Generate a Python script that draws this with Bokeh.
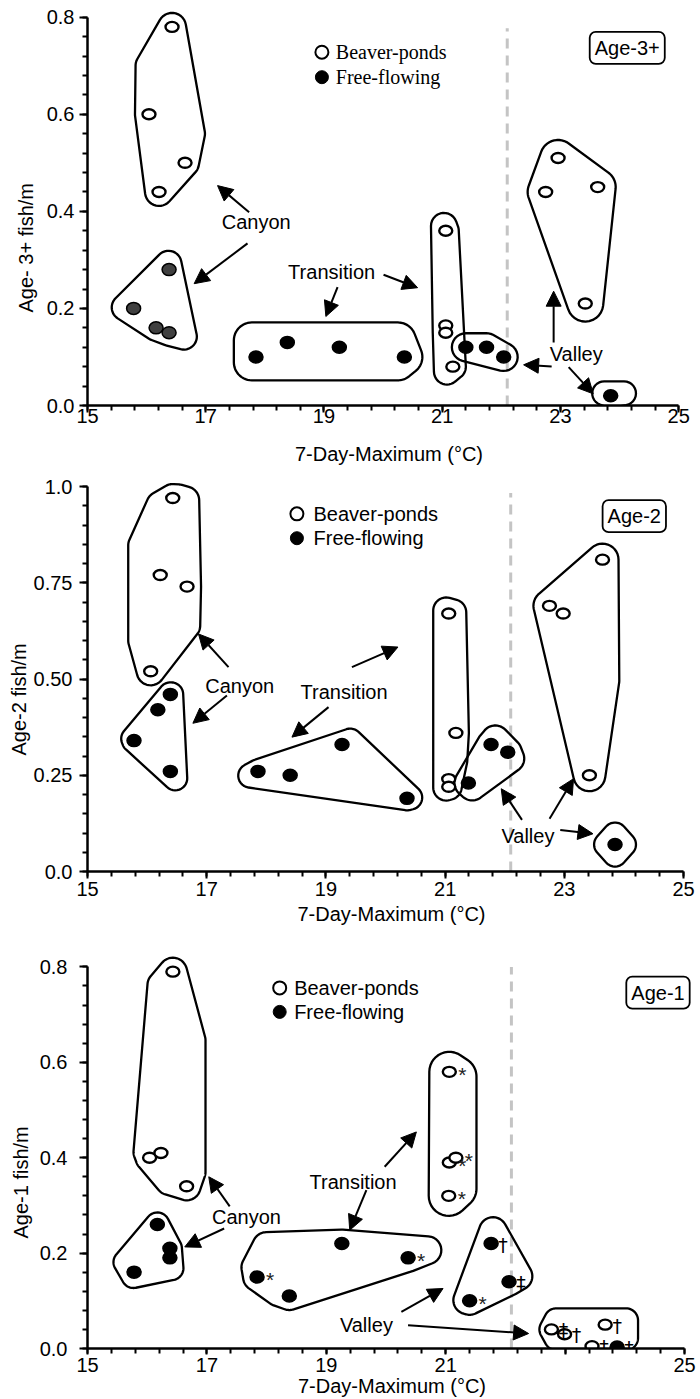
import numpy as np
from bokeh.plotting import figure
from bokeh.layouts import column
from bokeh.models import Label, Arrow, NormalHead, FixedTicker, Title
from bokeh.embed import file_html
from bokeh.resources import INLINE
from bokeh.core.properties import value

SANS = "Liberation Sans"
SERIF = "Liberation Serif"

X_TICKS = [15, 17, 19, 21, 23, 25]
X_TITLE = "7-Day-Maximum (°C)"
THRESHOLD_C = 22.1
ZONES = ["Canyon"] * 4 + ["Transition"] * 4 + ["Valley"] * 4

# ---------------- Age-3+ ----------------
A3_BEAVER_X = [16.43, 16.04, 16.65, 16.21, 21.06, 21.06, 21.06, 21.18, 22.96, 22.75, 23.63, 23.42]
A3_BEAVER_Y = [0.78, 0.60, 0.50, 0.44, 0.36, 0.165, 0.15, 0.08, 0.51, 0.44, 0.45, 0.21]
A3_FREE_X = [15.78, 16.16, 16.38, 16.38, 17.85, 18.38, 19.26, 20.36, 21.40, 21.75, 22.04, 23.85]
A3_FREE_Y = [0.20, 0.16, 0.15, 0.28, 0.10, 0.13, 0.12, 0.10, 0.12, 0.12, 0.10, 0.02]
A3_Y_TICKS = [0.0, 0.2, 0.4, 0.6, 0.8]
A3_Y_LABELS = ["0.0", "0.2", "0.4", "0.6", "0.8"]

# ---------------- Age-2 ----------------
A2_BEAVER_X = [16.43, 16.22, 16.67, 16.06, 21.06, 21.18, 21.06, 21.06, 23.64, 22.75, 22.98, 23.42]
A2_BEAVER_Y = [0.97, 0.77, 0.74, 0.52, 0.67, 0.36, 0.24, 0.22, 0.81, 0.69, 0.67, 0.25]
A2_FREE_X = [15.78, 16.18, 16.39, 16.39, 17.86, 18.40, 19.27, 20.36, 21.39, 21.77, 22.05, 23.85]
A2_FREE_Y = [0.34, 0.42, 0.46, 0.26, 0.26, 0.25, 0.33, 0.19, 0.23, 0.33, 0.31, 0.07]
A2_Y_TICKS = [0.0, 0.25, 0.5, 0.75, 1.0]
A2_Y_LABELS = ["0.0", "0.25", "0.50", "0.75", "1.0"]

# ---------------- Age-1 ----------------
A1_BEAVER_X = [16.43, 16.04, 16.23, 16.66, 21.06, 21.06, 21.17, 21.05, 22.77, 22.99, 23.67, 23.45]
A1_BEAVER_Y = [0.79, 0.40, 0.41, 0.34, 0.58, 0.39, 0.40, 0.32, 0.04, 0.03, 0.05, 0.005]
A1_BEAVER_NOTE = ["", "", "", "", "*", "*", "*", "*", "‡", "†", "†", "‡"]
A1_FREE_X = [15.78, 16.17, 16.38, 16.38, 17.84, 18.38, 19.26, 20.37, 21.76, 22.06, 21.40, 23.87]
A1_FREE_Y = [0.16, 0.26, 0.21, 0.19, 0.15, 0.11, 0.22, 0.19, 0.22, 0.14, 0.10, 0.003]
A1_FREE_NOTE = ["", "", "", "", "*", "", "", "*", "†", "‡", "*", "‡"]
A1_Y_TICKS = [0.0, 0.2, 0.4, 0.6, 0.8]
A1_Y_LABELS = ["0.0", "0.2", "0.4", "0.6", "0.8"]


def rounded_hull(px, py, r, n_arc=14):
    pts = sorted(set(zip(px, py)))
    if len(pts) == 1:
        cx, cy = pts[0]
        t = np.linspace(0, 2 * np.pi, 48, endpoint=False)
        return cx + r * np.cos(t), cy + r * np.sin(t)

    def cross(o, a, b):
        return (a[0] - o[0]) * (b[1] - o[1]) - (a[1] - o[1]) * (b[0] - o[0])

    lower = []
    for q in pts:
        while len(lower) >= 2 and cross(lower[-2], lower[-1], q) <= 0:
            lower.pop()
        lower.append(q)
    upper = []
    for q in reversed(pts):
        while len(upper) >= 2 and cross(upper[-2], upper[-1], q) <= 0:
            upper.pop()
        upper.append(q)
    hull = lower[:-1] + upper[:-1]
    m = len(hull)
    ox, oy = [], []
    for i in range(m):
        p0, p1, p2 = hull[i - 1], hull[i], hull[(i + 1) % m]
        din = (p1[0] - p0[0], p1[1] - p0[1])
        dout = (p2[0] - p1[0], p2[1] - p1[1])
        a0 = np.arctan2(-din[0], din[1])
        a1 = np.arctan2(-dout[0], dout[1])
        while a1 < a0:
            a1 += 2 * np.pi
        t = np.linspace(a0, a1, n_arc)
        ox += list(p1[0] + r * np.cos(t))
        oy += list(p1[1] + r * np.sin(t))
    return np.array(ox), np.array(oy)


PANELS = [
    dict(
        bx=A3_BEAVER_X, by=A3_BEAVER_Y, fx=A3_FREE_X, fy=A3_FREE_Y, bnote=None, fnote=None,
        canyon_free_fill="#404040",
        yticks=A3_Y_TICKS, ylabels=A3_Y_LABELS, yminor=[0.04 * i for i in range(21)],
        ytop=0.8138, xscale=59.1, fh=395, bl=87, bt=10, bb=62,
        x_tick_out=7, x_std=-4, xl_std=17, y_std=5, x_hide=[],
        ytitle="Age- 3+ fish/m", yt_standoff=13, yt_offset=93,
        dash_top=0.777,
        legend_font=SERIF, legend_icon=(18.965, [0.7279, 0.6764]), legend_text_x=19.2,
        age=("Age-3+", 24.13, 0.737),
        loops=[
            ([("b", 0, 4)], [16.05, 16.75], [0.70, 0.56], 14),
            ([("f", 0, 4)], [16.37, 15.63, 16.63], [0.292, 0.202, 0.142], 13),
            ([("f", 4, 8)], [17.78, 17.78, 20.25, 20.25], [0.134, 0.089, 0.134, 0.089], 18),
            ([("b", 4, 8)], [21.03, 21.08], [0.37, 0.07], 13),
            ([("f", 8, 11)], [], [], 14),
            ([("b", 8, 12)], [], [], 18),
            ([("f", 11, 12)], [23.74, 24.075], [0.025, 0.025], 12),
        ],
        labels=[("Canyon", 17.853, 0.378), ("Transition", 19.13, 0.2746), ("Valley", 23.267, 0.107)],
        arrows=[(17.734, 0.398, 17.200, 0.453), (17.707, 0.334, 16.804, 0.251),
                (19.230, 0.2437, 19.032, 0.1834), (20.008, 0.2693, 20.584, 0.2427),
                (22.885, 0.130, 22.885, 0.2355), (22.851, 0.0803, 22.377, 0.0838),
                (23.139, 0.079, 23.555, 0.024)],
    ),
    dict(
        bx=A2_BEAVER_X, by=A2_BEAVER_Y, fx=A2_FREE_X, fy=A2_FREE_Y, bnote=None, fnote=None,
        canyon_free_fill="black",
        yticks=A2_Y_TICKS, ylabels=A2_Y_LABELS, yminor=[0.05 * i for i in range(21)],
        ytop=1.0208, xscale=59.6, fh=393, bl=87, bt=11, bb=56,
        x_tick_out=7, x_std=3, xl_std=4, y_std=7, x_hide=[],
        ytitle="Age-2 fish/m", yt_standoff=2, yt_offset=116,
        dash_top=0.983,
        legend_font=SANS, legend_icon=(18.513, [0.929, 0.8657]), legend_text_x=18.792,
        age=("Age-2", 24.173, 0.923),
        loops=[
            ([("b", 0, 4)], [16.522, 16.639, 16.656, 15.918, 15.918, 16.22],
             [0.969, 0.964, 0.639, 0.600, 0.847, 0.951], 14),
            ([("f", 0, 4)], [16.404, 15.767, 16.472], [0.460, 0.345, 0.242], 12),
            ([("f", 4, 8)], [17.730, 19.408, 20.414], [0.249, 0.340, 0.192], 12),
            ([("b", 4, 8)], [21.018, 21.136, 21.153, 21.018], [0.678, 0.673, 0.288, 0.218], 13),
            ([("f", 8, 11)], [21.841, 22.092, 21.455], [0.343, 0.2935, 0.221], 14),
            ([("b", 8, 12)], [23.653], [0.496], 16),
            ([("f", 11, 12)], [23.70, 24.00, 23.85, 23.85], [0.07, 0.07, 0.096, 0.044], 12),
        ],
        labels=[("Canyon", 17.554, 0.483), ("Transition", 19.304, 0.466), ("Valley", 22.389, 0.0935)],
        arrows=[(17.366, 0.531, 16.862, 0.617), (17.339, 0.457, 16.768, 0.385),
                (19.044, 0.427, 18.430, 0.349), (19.436, 0.531, 20.208, 0.583),
                (22.289, 0.134, 21.941, 0.215), (22.752, 0.137, 23.154, 0.241),
                (22.931, 0.108, 23.480, 0.098)],
    ),
    dict(
        bx=A1_BEAVER_X, by=A1_BEAVER_Y, fx=A1_FREE_X, fy=A1_FREE_Y,
        bnote=A1_BEAVER_NOTE, fnote=A1_FREE_NOTE,
        canyon_free_fill="black",
        yticks=A1_Y_TICKS, ylabels=A1_Y_LABELS, yminor=[0.04 * i for i in range(21)],
        ytop=0.8239, xscale=59.7, fh=393, bl=86, bt=28, bb=51,
        x_tick_out=6, x_std=3, xl_std=0, y_std=12, x_hide=[23],
        ytitle="Age-1 fish/m", yt_standoff=10, yt_offset=110,
        dash_top=0.80,
        legend_font=SANS, legend_icon=(18.219, [0.756, 0.7057]), legend_text_x=18.461,
        age=("Age-1", 24.555, 0.746),
        loops=[
            ([("b", 0, 4)], [16.435, 16.742, 16.742, 16.373, 16.005, 16.239],
             [0.789, 0.646, 0.370, 0.351, 0.412, 0.762], 14),
            ([("f", 0, 4)], [16.189, 15.636, 15.770, 16.406], [0.2522, 0.181, 0.152, 0.1684], 12),
            ([("f", 4, 8)], [17.997, 19.420, 20.692, 19.252, 18.198, 17.813],
             [0.2145, 0.2145, 0.206, 0.1516, 0.118, 0.170], 14),
            ([("b", 4, 8)], [21.10, 21.18, 21.10, 21.18], [0.57, 0.57, 0.335, 0.335], 20),
            ([("f", 8, 11)], [21.792, 21.362, 22.216], [0.2459, 0.1013, 0.1516], 14),
            ([("b", 8, 12), ("f", 11, 12)], [22.85, 24.02, 22.85, 24.02], [0.059, 0.059, 0.022, 0.022], 12),
        ],
        labels=[("Canyon", 17.662, 0.276), ("Transition", 19.448, 0.349), ("Valley", 19.671, 0.0489)],
        arrows=[(17.382, 0.298, 17.031, 0.360), (17.289, 0.2516, 16.629, 0.213),
                (19.671, 0.332, 19.392, 0.248), (19.977, 0.381, 20.508, 0.454),
                (20.257, 0.0767, 20.955, 0.1258), (20.369, 0.0488, 22.388, 0.0314)],
    ),
]

X_END = 25.2
TOTAL_W = 698


def draw_panel(c):
    fw = int(round(c["xscale"] * (X_END - 15)))
    p = figure(frame_width=fw, frame_height=c["fh"], x_range=(15, X_END), y_range=(0, c["ytop"]),
               output_backend="svg", toolbar_location=None,
               min_border_left=c["bl"], min_border_right=TOTAL_W - c["bl"] - fw,
               min_border_top=c["bt"], min_border_bottom=c["bb"])
    p.grid.visible = False
    p.outline_line_color = None
    p.background_fill_color = "white"
    p.border_fill_color = "white"
    sx = fw / (X_END - 15)
    sy = c["fh"] / c["ytop"]

    xa, ya = p.xaxis[0], p.yaxis[0]
    xa.ticker = FixedTicker(ticks=X_TICKS, minor_ticks=[15 + 0.4 * i for i in range(26)])
    xa.major_label_overrides = {float(t): ("" if t in c["x_hide"] else str(t)) for t in X_TICKS}
    xa.bounds = (15, 25)
    ya.ticker = FixedTicker(ticks=c["yticks"], minor_ticks=c["yminor"])
    ya.major_label_overrides = {float(t): lab for t, lab in zip(c["yticks"], c["ylabels"])}
    ya.bounds = (0, c["yticks"][-1])
    for ax in (xa, ya):
        ax.axis_line_width = 2.5
        ax.axis_line_color = "black"
        ax.major_tick_line_width = 2
        ax.minor_tick_line_width = 2
        ax.major_tick_in = 0
        ax.minor_tick_in = 0
        ax.minor_tick_out = 5
        ax.major_label_text_font = SANS
        ax.major_label_text_font_size = "20px"
        ax.major_label_text_color = "black"
    ya.major_tick_out = 8
    xa.major_tick_out = c["x_tick_out"]
    xa.major_label_standoff = c["x_std"]
    ya.major_label_standoff = c["y_std"]
    xa.axis_label = X_TITLE
    xa.axis_label_text_font = SANS
    xa.axis_label_text_font_size = "20px"
    xa.axis_label_text_font_style = "normal"
    xa.axis_label_text_color = "black"
    xa.axis_label_standoff = c["xl_std"]

    # y title (placed in the left side panel, shifted along the axis like the reference)
    p.add_layout(Title(text=c["ytitle"], align="left", offset=c["yt_offset"], standoff=c["yt_standoff"],
                       text_font=SANS, text_font_size="20px", text_font_style="normal",
                       text_color="black"), "left")

    # threshold line
    p.segment(x0=[THRESHOLD_C], y0=[0], x1=[THRESHOLD_C], y1=[c["dash_top"]],
              line_color="#c4c4c4", line_width=3, line_dash="10 7")

    series = {"b": (c["bx"], c["by"]), "f": (c["fx"], c["fy"])}
    for members, ex, ey, r in c["loops"]:
        xs, ys = list(ex), list(ey)
        for key, a, b in members:
            xs += series[key][0][a:b]
            ys += series[key][1][a:b]
        hx, hy = rounded_hull([v * sx for v in xs], [v * sy for v in ys], r)
        p.patch(hx / sx, hy / sy, fill_alpha=0, line_color="black", line_width=2.3, line_join="round")

    # markers
    free_fill = [c["canyon_free_fill"] if z == "Canyon" else "black" for z in ZONES]
    p.ellipse(x=c["fx"], y=c["fy"], width=14, height=12, width_units="screen", height_units="screen",
              fill_color=free_fill, line_color="black", line_width=1.5)
    p.ellipse(x=c["bx"], y=c["by"], width=13, height=10, width_units="screen", height_units="screen",
              fill_color="white", line_color="black", line_width=2.4)

    # footnote marks
    for xs, ys, notes in ((c["bx"], c["by"], c["bnote"]), (c["fx"], c["fy"], c["fnote"])):
        if notes is None:
            continue
        ax_ = [x for x, n in zip(xs, notes) if n == "*"]
        ay_ = [y for y, n in zip(ys, notes) if n == "*"]
        p.text(x=ax_, y=ay_, text=["*"] * len(ax_), x_offset=13, y_offset=3,
               text_font=value(SANS), text_font_size="21px", text_color="#222222",
               text_align="center", text_baseline="middle")
        dx_ = [x for x, n in zip(xs, notes) if n in ("†", "‡")]
        dy_ = [y for y, n in zip(ys, notes) if n in ("†", "‡")]
        dt_ = [n for n in notes if n in ("†", "‡")]
        p.text(x=dx_, y=dy_, text=dt_, x_offset=12, y_offset=1,
               text_font=value("DejaVu Sans"), text_font_size="19px", text_color="black",
               text_align="center", text_baseline="middle")

    # legend
    lx, lys = c["legend_icon"]
    p.scatter(x=[lx], y=[lys[0]], size=13, marker="circle", fill_color="white", line_color="black", line_width=2)
    p.scatter(x=[lx], y=[lys[1]], size=13, marker="circle", fill_color="black", line_color="black")
    for txt, yy in zip(["Beaver-ponds", "Free-flowing"], lys):
        p.add_layout(Label(x=c["legend_text_x"], y=yy, text=txt, text_align="left", text_baseline="middle",
                           text_font=c["legend_font"], text_font_size="20px", text_color="black"))

    # zone labels and arrows
    for txt, xx, yy in c["labels"]:
        p.add_layout(Label(x=xx, y=yy, text=txt, text_align="center", text_baseline="middle",
                           text_font=SANS, text_font_size="20px", text_color="black"))
    for x0, y0, x1, y1 in c["arrows"]:
        p.add_layout(Arrow(end=NormalHead(size=15, fill_color="black", line_color="black", line_width=1),
                           x_start=x0, y_start=y0, x_end=x1, y_end=y1,
                           line_color="black", line_width=2))

    # age box
    txt, xx, yy = c["age"]
    p.add_layout(Label(x=xx, y=yy, text=txt, text_align="center", text_baseline="middle",
                       text_font=SANS, text_font_size="20px", text_color="black",
                       border_line_color="black", border_line_width=1.8, border_radius=6,
                       background_fill_color="white", padding=5))
    return p


figs = [draw_panel(c) for c in PANELS]
layout = column(*figs, spacing=0)
open("out.html", "w").write(file_html(layout, INLINE))
